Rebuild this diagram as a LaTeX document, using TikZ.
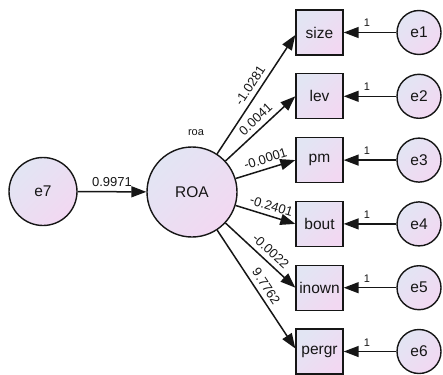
\documentclass[tikz,border=0pt]{standalone}
\usepackage{fontspec}
\setmainfont{Liberation Sans}
\usetikzlibrary{arrows.meta}
\definecolor{shadeA}{RGB}{226,229,243}
\definecolor{shadeB}{RGB}{242,216,242}
\definecolor{ink}{RGB}{22,22,22}
\begin{document}
\begin{tikzpicture}[x=1pt,y=-1pt,
  fillshade/.style={shading=axis, top color=shadeA, bottom color=shadeB, shading angle=45},
  latent/.style={circle, draw=ink, line width=1.4pt, fillshade, inner sep=0pt,
    font=\fontsize{15.5}{16}\selectfont, text=ink},
  observed/.style={rectangle, draw=ink, line width=1.4pt, fillshade, inner sep=0pt,
    minimum width=47pt, minimum height=45pt, font=\fontsize{15.5}{16}\selectfont, text=ink},
  regpath/.style={draw=ink, line width=1.5pt, -{Triangle[length=15pt,width=11pt]}},
  coef/.style={font=\fontsize{13}{13}\selectfont, text=ink, sloped, anchor=south,
    inner sep=0pt, outer xsep=0pt, outer ysep=5.5pt},
  fixed/.style={font=\fontsize{11}{11}\selectfont, text=ink, anchor=south,
    inner sep=0pt, outer xsep=0pt, outer ysep=5.5pt},
]
\useasboundingbox (0,0) rectangle (443,374);

% latent variables
\node[latent, minimum size=68pt] (e7) at (43,191.5) {e7};
\node[latent, minimum size=90pt] (roa) at (192,192) {ROA};
\node[font=\fontsize{11}{11}\selectfont, text=ink] (roaname) at (196,133) {roa};

% observed variables
\node[observed] (size)  at (319.5,32.5)  {size};
\node[observed] (lev)   at (319.5,96.3)  {lev};
\node[observed] (pm)    at (319.5,160.1) {pm};
\node[observed] (bout)  at (319.5,223.9) {bout};
\node[observed] (inown) at (319.5,287.7) {inown};
\node[observed] (pergr) at (319.5,351.5) {pergr};

% error terms
\node[latent, minimum size=44pt] (e1) at (419,32.5)  {e1};
\node[latent, minimum size=44pt] (e2) at (419,96.3)  {e2};
\node[latent, minimum size=44pt] (e3) at (419,160.1) {e3};
\node[latent, minimum size=44pt] (e4) at (419,223.9) {e4};
\node[latent, minimum size=44pt] (e5) at (419,287.7) {e5};
\node[latent, minimum size=44pt] (e6) at (419,351.5) {e6};

% structural paths
\draw[regpath] (e7) -- node[coef] {0.9971} (roa);
\draw[regpath] (roa) -- node[coef, pos=0.53] {-1.0281} ([yshift=-2.5pt]size.west);
\draw[regpath] (roa) -- node[coef, pos=0.53] {0.0041} (lev.west);
\draw[regpath] (roa) -- node[coef, pos=0.55] {-0.0001} (pm.west);
\draw[regpath] (roa) -- node[coef, pos=0.55] {-0.2401} (bout.west);
\draw[regpath] (roa) -- node[coef, pos=0.55] {-0.0022} (inown.west);
\draw[regpath] (roa) -- node[coef, pos=0.52] {9.7762} ([yshift=3pt]pergr.west);

% error loadings fixed at 1
\draw[regpath] (e1) -- node[fixed, pos=0.56] {1} (size);
\draw[regpath] (e2) -- node[fixed, pos=0.56] {1} (lev);
\draw[regpath] (e3) -- node[fixed, pos=0.56] {1} (pm);
\draw[regpath] (e4) -- node[fixed, pos=0.56] {1} (bout);
\draw[regpath] (e5) -- node[fixed, pos=0.56] {1} (inown);
\draw[regpath] (e6) -- node[fixed, pos=0.56] {1} (pergr);
\end{tikzpicture}
\end{document}
